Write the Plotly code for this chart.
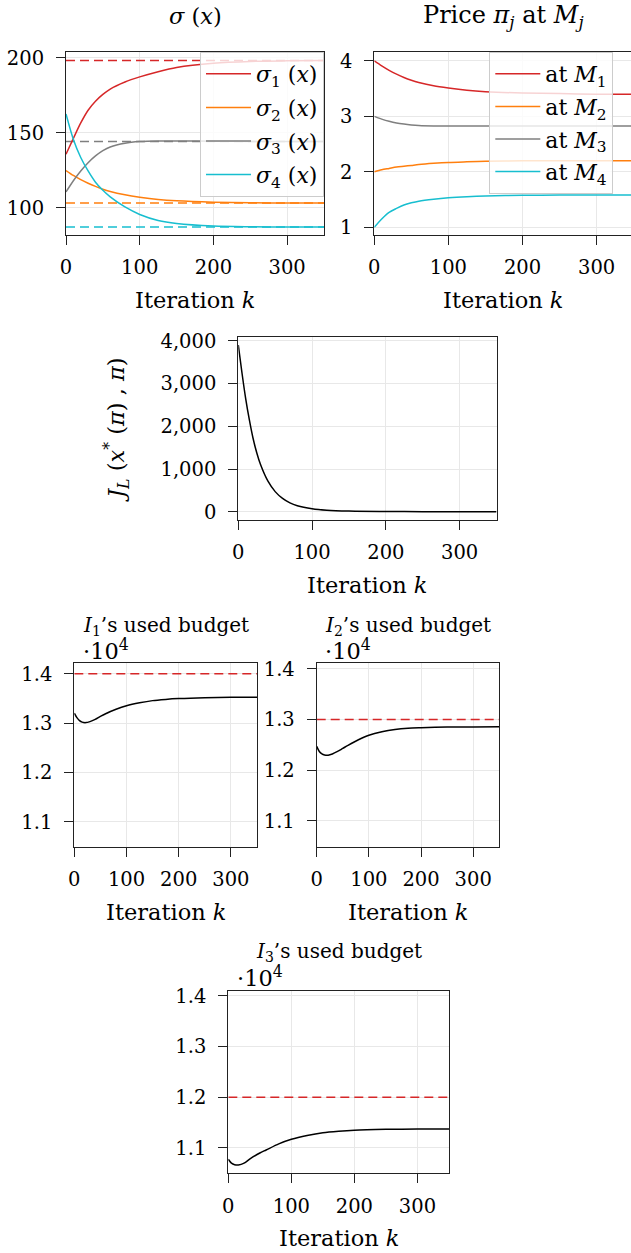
import plotly.graph_objects as go

W, H = 631, 1253

# ---------------- data ----------------
k_main = [0, 10, 20, 30, 40, 50, 60, 80, 100, 125, 150, 200, 250, 300, 350]

sigma1 = [135.7, 146.2, 156.5, 165.0, 171.0, 175.5, 179.1, 183.8, 187.2, 190.7, 193.5, 196.3, 197.5, 197.9, 198.1]
sigma2 = [124.8, 121.5, 118.7, 116.3, 114.2, 112.3, 110.8, 108.6, 107.0, 105.5, 104.6, 103.7, 103.3, 103.1, 103.1]
sigma3 = [110.5, 118.0, 124.5, 130.0, 134.5, 138.0, 140.5, 143.0, 144.1, 144.5, 144.5, 144.3, 144.2, 144.1, 144.1]
sigma4 = [162.5, 145.5, 133.5, 124.5, 117.0, 111.6, 107.2, 100.5, 95.5, 91.5, 89.5, 87.8, 87.3, 87.1, 87.1]
sigma_ref = [198.2, 103.1, 144.1, 87.1]
sigma_names = ["<i>σ</i><sub>1</sub> (<i>x</i>)", "<i>σ</i><sub>2</sub> (<i>x</i>)",
               "<i>σ</i><sub>3</sub> (<i>x</i>)", "<i>σ</i><sub>4</sub> (<i>x</i>)"]

price1 = [4.00, 3.91, 3.83, 3.76, 3.70, 3.65, 3.61, 3.55, 3.51, 3.47, 3.445, 3.42, 3.41, 3.40, 3.40]
price2 = [2.00, 2.035, 2.06, 2.085, 2.10, 2.115, 2.13, 2.152, 2.169, 2.18, 2.19, 2.197, 2.199, 2.20, 2.20]
price3 = [3.00, 2.95, 2.91, 2.88, 2.86, 2.845, 2.835, 2.827, 2.825, 2.824, 2.824, 2.824, 2.824, 2.824, 2.824]
price4 = [1.00, 1.15, 1.27, 1.34, 1.40, 1.44, 1.47, 1.505, 1.53, 1.55, 1.563, 1.575, 1.58, 1.582, 1.583]
price_names = ["at <i>M</i><sub>1</sub>", "at <i>M</i><sub>2</sub>",
               "at <i>M</i><sub>3</sub>", "at <i>M</i><sub>4</sub>"]

k_J = [0, 5, 10, 15, 20, 25, 30, 40, 50, 60, 70, 80, 100, 120, 150, 200, 250, 300, 350]
J_L = [3906, 3250, 2650, 2150, 1720, 1380, 1110, 720, 470, 310, 205, 140, 70, 35, 14, 3, 1, 0, 0]

k_I1 = [0, 5, 10, 15, 22, 30, 40, 50, 60, 80, 100, 125, 150, 175, 200, 250, 300, 350]
budget1 = [13200, 13110, 13050, 13020, 13010, 13030, 13075, 13135, 13190, 13280, 13350,
           13410, 13455, 13480, 13497, 13515, 13522, 13525]
k_I2 = [0, 5, 10, 15, 22, 30, 40, 50, 60, 80, 100, 125, 150, 175, 200, 250, 300, 350]
budget2 = [12470, 12370, 12320, 12300, 12296, 12320, 12370, 12430, 12490, 12600, 12690,
           12760, 12805, 12830, 12840, 12852, 12855, 12856]
k_I3 = [0, 5, 10, 16, 25, 35, 50, 60, 80, 100, 125, 150, 175, 200, 250, 300, 350]
budget3 = [10776, 10700, 10670, 10664, 10700, 10790, 10900, 10960, 11080, 11170, 11245,
           11300, 11330, 11350, 11366, 11373, 11375]
budget_limits = [14000, 13000, 12000]

budget_ticks = [11000, 12000, 13000, 14000]
budget_ticktext = ["1.1", "1.2", "1.3", "1.4"]
x_ticks = [0, 100, 200, 300]

colors = ["#d62728", "#ff7f0e", "#7f7f7f", "#17becf"]
FONT = "DejaVu Serif"
TICK_SIZE = 19.5
TXT_SIZE = 22.5
LEG_SIZE = 22

# ---------------- layout helpers ----------------
def px_x(v):
    return v / W

def px_y(v):
    return 1 - v / H

fig = go.Figure()

def add_axes(n, xpx, ypx, xrange, yrange, ymirror=True, **ykw):
    xname = "xaxis" if n == 1 else f"xaxis{n}"
    yname = "yaxis" if n == 1 else f"yaxis{n}"
    common = dict(showline=True, linecolor="#222", linewidth=1.1,
                  ticks="outside", ticklen=9, tickwidth=1.1, tickcolor="#222",
                  showgrid=True, gridcolor="#e8e8e8", gridwidth=1, zeroline=False,
                  tickfont=dict(family=FONT, size=TICK_SIZE, color="black"))
    fig.update_layout({
        xname: dict(domain=[px_x(xpx[0]), px_x(xpx[1])], range=xrange,
                    anchor=f"y{'' if n == 1 else n}", tickvals=x_ticks,
                    mirror=True, ticklabelstandoff=6, **common),
        yname: dict(domain=[px_y(ypx[1]), px_y(ypx[0])], range=yrange,
                    anchor=f"x{'' if n == 1 else n}", mirror=ymirror,
                    ticklabelstandoff=8, **common, **ykw),
    })

add_axes(1, (66, 324), (52, 235), [0, 350], [81.8, 203.8], tickvals=[100, 150, 200])
add_axes(2, (374.3, 631), (52, 235), [0, 346.4], [0.86, 4.16], ymirror=False, tickvals=[1, 2, 3, 4])
add_axes(3, (238.3, 496.5), (336.7, 520), [0, 350], [-195, 4100],
         tickvals=[0, 1000, 2000, 3000, 4000], tickformat=",")
add_axes(4, (74.3, 257), (663.3, 846.7), [0, 350], [10500, 14210],
         tickvals=budget_ticks, ticktext=budget_ticktext)
add_axes(5, (316.7, 499.3), (663.3, 846.7), [0, 350], [10490, 14110],
         tickvals=budget_ticks, ticktext=budget_ticktext)
add_axes(6, (228.3, 449), (990.7, 1173.3), [0, 350], [10500, 14100],
         tickvals=budget_ticks, ticktext=budget_ticktext)

DASH = "9px,5px"

# panel 1: sigma
for i, (ser, ref) in enumerate(zip([sigma1, sigma2, sigma3, sigma4], sigma_ref)):
    fig.add_trace(go.Scatter(x=[k_main[0], k_main[-1]], y=[ref, ref], mode="lines",
                             line=dict(color=colors[i], width=1.5, dash=DASH),
                             showlegend=False, xaxis="x", yaxis="y", hoverinfo="skip"))
for i, ser in enumerate([sigma1, sigma2, sigma3, sigma4]):
    fig.add_trace(go.Scatter(x=k_main, y=ser, mode="lines", name=sigma_names[i],
                             line=dict(color=colors[i], width=1.5, shape="spline", smoothing=0.8),
                             legend="legend", legendgroup=f"s{i}",
                             xaxis="x", yaxis="y"))

# panel 2: prices
for i, ser in enumerate([price1, price2, price3, price4]):
    fig.add_trace(go.Scatter(x=k_main, y=ser, mode="lines", name=price_names[i],
                             line=dict(color=colors[i], width=1.5, shape="spline", smoothing=0.8),
                             legend="legend2", legendgroup=f"p{i}",
                             xaxis="x2", yaxis="y2"))

# panel 3: J_L
fig.add_trace(go.Scatter(x=k_J, y=J_L, mode="lines", showlegend=False,
                         line=dict(color="black", width=1.5, shape="spline", smoothing=0.8),
                         xaxis="x3", yaxis="y3"))

# panels 4-6: budgets
for n, (kk, bb, lim) in enumerate(zip([k_I1, k_I2, k_I3], [budget1, budget2, budget3], budget_limits), start=4):
    fig.add_trace(go.Scatter(x=[0, 350], y=[lim, lim], mode="lines", showlegend=False,
                             line=dict(color="#d62728", width=1.5, dash=DASH),
                             xaxis=f"x{n}", yaxis=f"y{n}", hoverinfo="skip"))
    fig.add_trace(go.Scatter(x=kk, y=bb, mode="lines", showlegend=False,
                             line=dict(color="black", width=1.5, shape="spline", smoothing=0.8),
                             xaxis=f"x{n}", yaxis=f"y{n}"))

# ---------------- text ----------------
ann = []
def text(x, y, s, size=TXT_SIZE, angle=0, xanchor="center"):
    ann.append(dict(x=px_x(x), y=px_y(y), xref="paper", yref="paper", text=s,
                    showarrow=False, xanchor=xanchor, yanchor="middle", textangle=angle,
                    font=dict(family=FONT, size=size, color="black")))

text(195, 16, "<i>σ</i> (<i>x</i>)")
text(503, 16, "Price <i>π<sub>j</sub></i> at <i>M<sub>j</sub></i>", size=24)
for cx, cy in [(195, 300), (503, 300), (367, 585), (165.7, 912), (408, 912), (338.7, 1238)]:
    text(cx, cy, "Iteration <i>k</i>")
text(117, 430, "<i>J<sub>L</sub></i> (<i>x</i><sup>*</sup> (<i>π</i>) , <i>π</i>)", angle=-90)
text(165.7, 626, "<i>I</i><sub>1</sub>’s used budget", size=20)
text(408, 626, "<i>I</i><sub>2</sub>’s used budget", size=20)
text(338.7, 952, "<i>I</i><sub>3</sub>’s used budget", size=20)
for x0, y0 in [(81, 650), (323, 650), (235, 976)]:
    text(x0, y0, "·10<sup>4</sup>", xanchor="left")

fig.update_layout(
    width=W, height=H,
    margin=dict(l=0, r=0, t=0, b=0, autoexpand=False),
    paper_bgcolor="white", plot_bgcolor="white",
    font=dict(family=FONT, size=TXT_SIZE, color="black"),
    annotations=ann,
    legend=dict(x=px_x(324), y=px_y(52), xanchor="right", yanchor="top",
                bgcolor="rgba(255,255,255,0.8)", bordercolor="#cccccc", borderwidth=1,
                font=dict(family=FONT, size=LEG_SIZE, color="black"), tracegroupgap=2,
                itemwidth=45),
    legend2=dict(x=px_x(489.3), y=px_y(52), xanchor="left", yanchor="top",
                 bgcolor="rgba(255,255,255,0.8)", bordercolor="#cccccc", borderwidth=1,
                 font=dict(family=FONT, size=LEG_SIZE, color="black"), tracegroupgap=1,
                 itemwidth=45),
    showlegend=True,
)

fig.write_html("out.html", config={"displayModeBar": False},
               post_script="document.body.style.margin='0';document.body.style.padding='0';")
